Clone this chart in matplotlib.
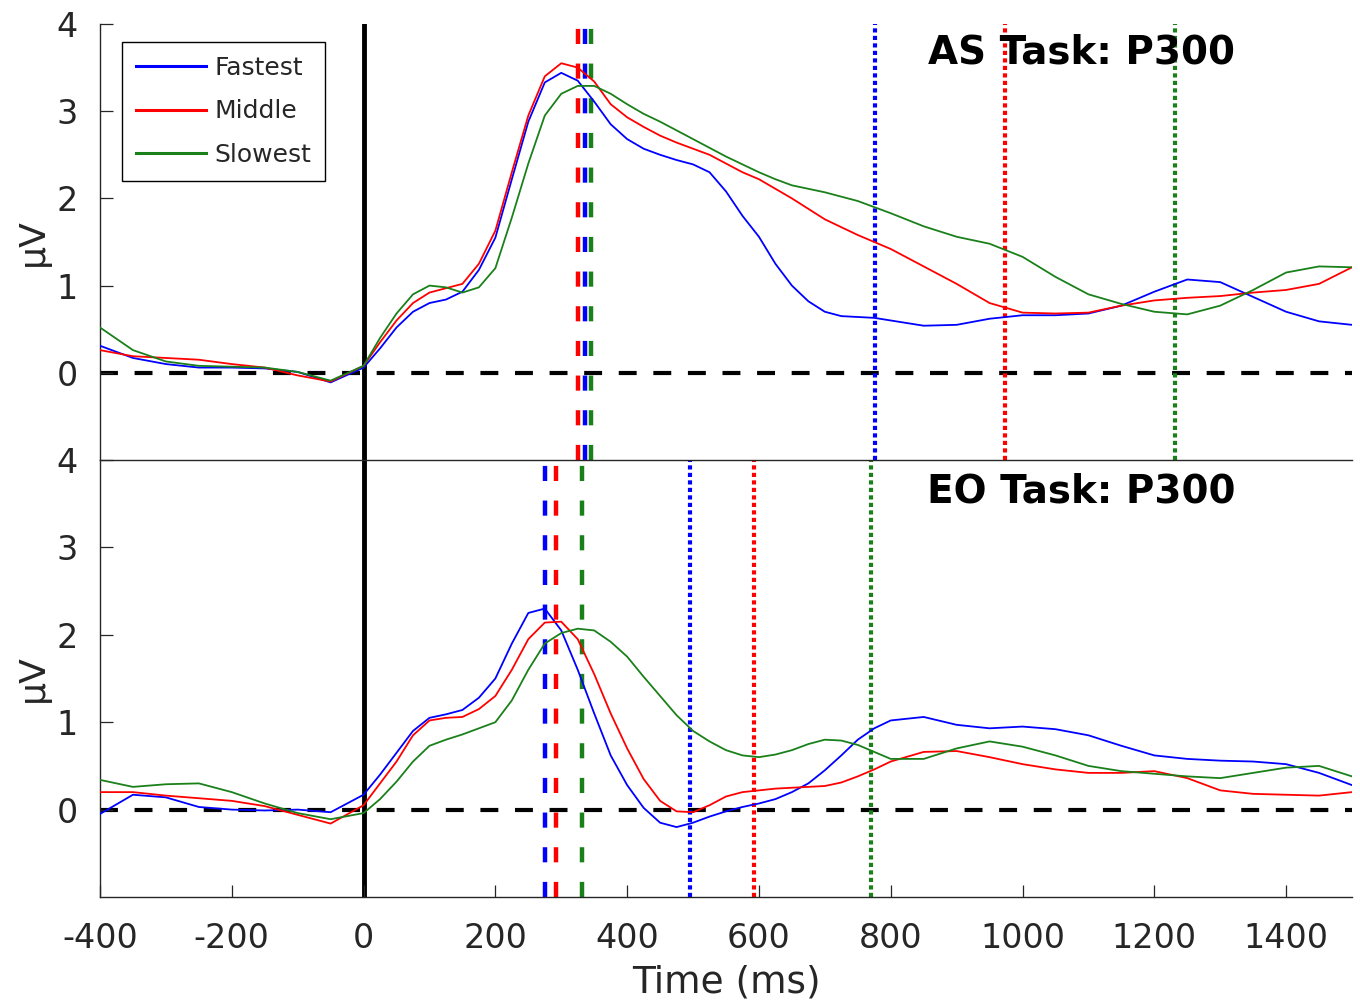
import matplotlib
matplotlib.use('Agg')
import matplotlib.pyplot as plt

plt.rcParams['axes.unicode_minus'] = False

# time axis (ms)
t_ms = [-400, -350, -300, -250, -200, -150, -100, -50, 0,
        25, 50, 75, 100, 125, 150, 175, 200, 225, 250, 275, 300,
        325, 350, 375, 400, 425, 450, 475, 500, 525, 550, 575, 600,
        625, 650, 675, 700, 725, 750, 775, 800,
        850, 900, 950, 1000, 1050, 1100, 1150,
        1200, 1250, 1300, 1350, 1400, 1450, 1500]

# AS task (top)
as_fastest = [0.31, 0.17, 0.10, 0.06, 0.06, 0.05, 0.01, -0.11, 0.06,
              0.28, 0.52, 0.70, 0.80, 0.84, 0.93, 1.18, 1.55, 2.22, 2.88, 3.33, 3.44,
              3.35, 3.11, 2.85, 2.68, 2.57, 2.50, 2.44, 2.39, 2.30, 2.08, 1.80, 1.56,
              1.25, 1.00, 0.82, 0.70, 0.65, 0.64, 0.63, 0.60,
              0.54, 0.55, 0.62, 0.66, 0.66, 0.68, 0.77,
              0.93, 1.07, 1.04, 0.87, 0.70, 0.59, 0.55]
as_middle = [0.26, 0.19, 0.17, 0.15, 0.10, 0.06, -0.03, -0.10, 0.08,
             0.35, 0.60, 0.80, 0.92, 0.97, 1.02, 1.25, 1.63, 2.30, 2.95, 3.40, 3.55,
             3.50, 3.34, 3.08, 2.93, 2.82, 2.72, 2.64, 2.57, 2.50, 2.40, 2.30, 2.22,
             2.11, 2.00, 1.88, 1.76, 1.67, 1.58, 1.50, 1.42,
             1.22, 1.02, 0.80, 0.69, 0.68, 0.69, 0.77,
             0.83, 0.86, 0.88, 0.92, 0.95, 1.02, 1.21]
as_slowest = [0.52, 0.26, 0.13, 0.08, 0.07, 0.06, 0.01, -0.09, 0.08,
              0.40, 0.68, 0.90, 1.00, 0.98, 0.92, 0.98, 1.20, 1.78, 2.40, 2.95, 3.20,
              3.29, 3.29, 3.20, 3.08, 2.97, 2.88, 2.78, 2.68, 2.58, 2.48, 2.39, 2.30,
              2.22, 2.15, 2.11, 2.07, 2.02, 1.97, 1.90, 1.83,
              1.68, 1.56, 1.48, 1.33, 1.10, 0.90, 0.79,
              0.70, 0.67, 0.77, 0.95, 1.15, 1.22, 1.21]

# EO task (bottom)
eo_fastest = [-0.05, 0.17, 0.14, 0.03, 0.00, -0.01, 0.00, -0.03, 0.17,
              0.40, 0.65, 0.90, 1.05, 1.09, 1.14, 1.28, 1.50, 1.90, 2.25, 2.30, 2.05,
              1.60, 1.10, 0.62, 0.28, 0.02, -0.15, -0.20, -0.15, -0.08, -0.02, 0.03, 0.07,
              0.12, 0.20, 0.30, 0.45, 0.62, 0.80, 0.93, 1.02,
              1.06, 0.97, 0.93, 0.95, 0.92, 0.85, 0.73,
              0.62, 0.58, 0.56, 0.55, 0.52, 0.42, 0.28]
eo_middle = [0.20, 0.20, 0.16, 0.13, 0.10, 0.04, -0.06, -0.16, 0.05,
             0.30, 0.55, 0.85, 1.02, 1.05, 1.06, 1.15, 1.30, 1.60, 1.95, 2.14, 2.15,
             1.95, 1.55, 1.10, 0.70, 0.35, 0.10, -0.02, -0.03, 0.05, 0.15, 0.20, 0.22,
             0.24, 0.25, 0.26, 0.27, 0.31, 0.38, 0.46, 0.55,
             0.66, 0.67, 0.60, 0.52, 0.46, 0.42, 0.42,
             0.44, 0.36, 0.22, 0.18, 0.17, 0.16, 0.20]
eo_slowest = [0.34, 0.26, 0.29, 0.30, 0.20, 0.07, -0.04, -0.11, -0.04,
              0.12, 0.32, 0.55, 0.73, 0.80, 0.86, 0.93, 1.00, 1.25, 1.60, 1.90, 2.02,
              2.07, 2.05, 1.92, 1.75, 1.52, 1.30, 1.08, 0.90, 0.78, 0.68, 0.62, 0.60,
              0.63, 0.68, 0.75, 0.80, 0.79, 0.74, 0.66, 0.58,
              0.58, 0.70, 0.78, 0.72, 0.62, 0.50, 0.44,
              0.41, 0.38, 0.36, 0.42, 0.48, 0.50, 0.38]

# latency markers: peak (dashed) and offset (dotted), order fastest/middle/slowest
as_peak = [336, 325, 345]
as_end = [776, 973, 1231]
eo_peak = [275, 292, 331]
eo_end = [495, 592, 770]

labels = ['Fastest', 'Middle', 'Slowest']
colors = ['#0000ff', '#ff0000', '#1a801a']
grey = '#262626'

fig = plt.figure(figsize=(13.6, 10.02), dpi=100)
ax1 = fig.add_axes([100 / 1360, 1 - 460 / 1002, 1252 / 1360, 436 / 1002])
ax2 = fig.add_axes([100 / 1360, 1 - 897 / 1002, 1252 / 1360, 437 / 1002])

panels = [
    (ax1, [as_fastest, as_middle, as_slowest], as_peak, as_end, 'AS Task: P300', 0.935),
    (ax2, [eo_fastest, eo_middle, eo_slowest], eo_peak, eo_end, 'EO Task: P300', 0.928),
]

for ax, series, peaks, ends, title, ty in panels:
    ax.axhline(0, color='k', lw=3, dashes=(4.3, 4.0), zorder=1)
    ax.axvline(0, color='k', lw=3.5, zorder=1)
    for ys, c, lab in zip(series, colors, labels):
        ax.plot(t_ms, ys, color=c, lw=1.3, label=lab, zorder=3)
    for i in [1, 0, 2]:
        ax.axvline(peaks[i], color=colors[i], lw=3.2, dashes=(3.4, 4.4), zorder=2)
    for i in range(3):
        ax.axvline(ends[i], color=colors[i], lw=3, dashes=(1.0, 0.8), zorder=2)
    ax.text(0.784, ty, title, transform=ax.transAxes,
            ha='center', va='center', fontsize=28, fontweight='bold', color='k')
    ax.set_xlim(-400, 1500)
    ax.set_ylim(-1, 4)
    ax.set_yticks([0, 1, 2, 3, 4])
    ax.tick_params(direction='in', length=9, width=0.9, labelsize=24,
                   colors=grey, labelcolor=grey)
    ax.tick_params(axis='y', pad=16)
    ax.set_ylabel('µV', fontsize=26, color=grey)
    ax.yaxis.set_label_coords(-0.04, 0.5)
    for s in ax.spines.values():
        s.set_color(grey)
        s.set_linewidth(1.0)
    ax.spines['right'].set_visible(False)

ax1.spines['top'].set_visible(False)
ax1.spines['bottom'].set_visible(False)
ax1.tick_params(axis='x', bottom=False, labelbottom=False)

ax2.set_xticks(range(-400, 1401, 200))
ax2.set_xlabel('Time (ms)', fontsize=27, color=grey)
ax2.xaxis.set_label_coords(0.5, -0.155)
ax2.tick_params(axis='x', pad=18)

leg = ax1.legend(loc='upper left', bbox_to_anchor=(0.0176, 0.9587),
                 borderaxespad=0, fontsize=18, handlelength=2.8,
                 labelspacing=0.78, fancybox=False, framealpha=1,
                 edgecolor='k', handletextpad=0.35, borderpad=0.55)
leg.get_frame().set_linewidth(1.0)
for txt in leg.get_texts():
    txt.set_color(grey)
for ln in leg.get_lines():
    ln.set_linewidth(2.2)

fig.savefig('out.png', dpi=100)
